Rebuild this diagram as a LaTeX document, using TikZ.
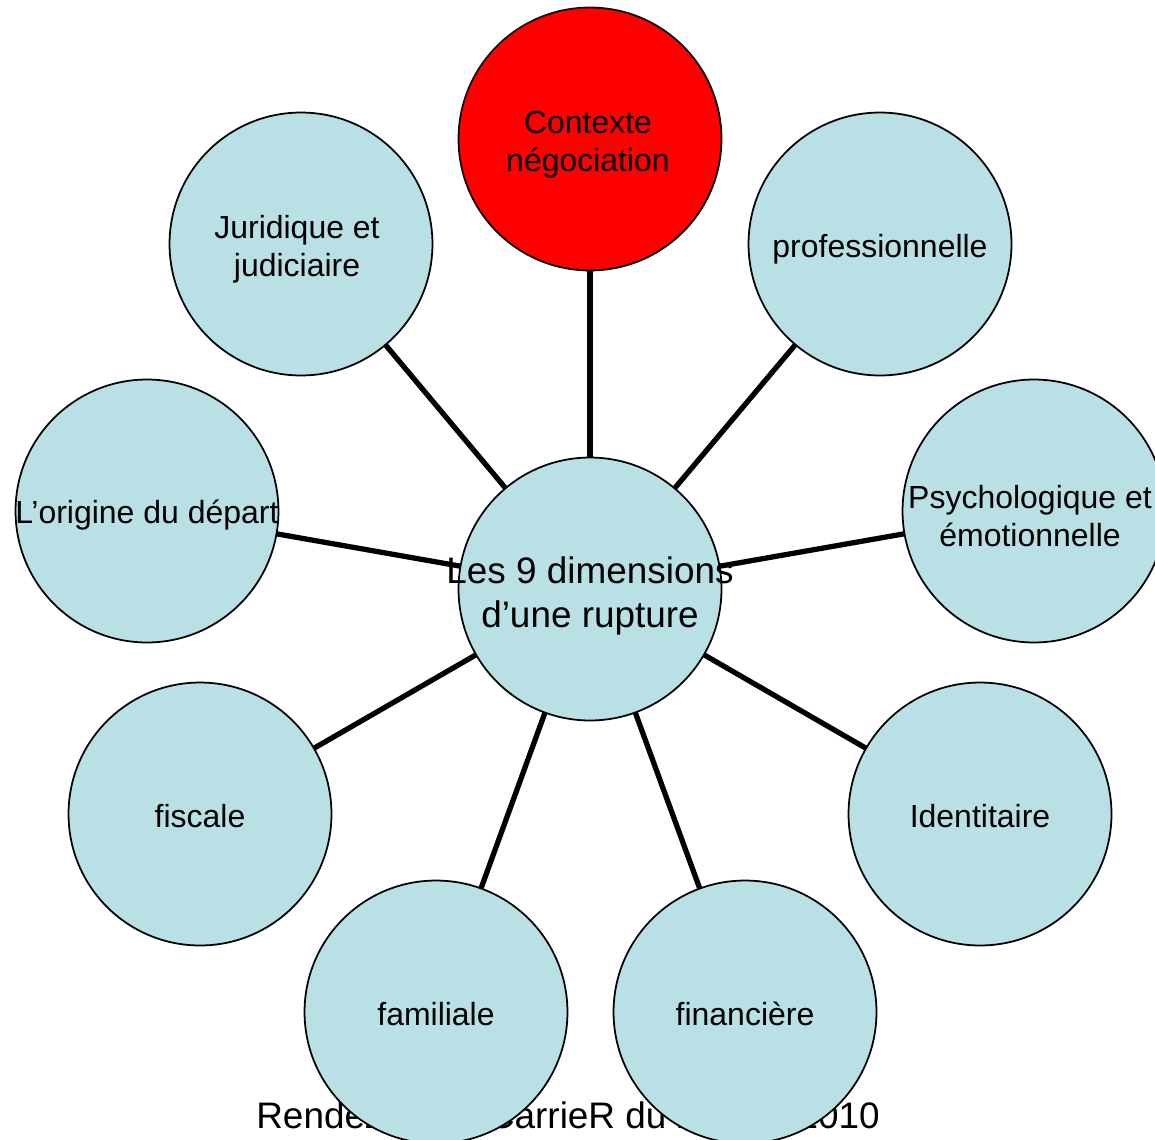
\documentclass[tikz,border=0pt]{standalone}
\usepackage{fontspec}
\setmainfont{Liberation Sans}
\definecolor{bubble}{RGB}{185,224,228}
\definecolor{hot}{RGB}{255,0,0}
\pgfdeclarelayer{background}
\pgfsetlayers{background,main}
\tikzset{
  bub/.style={circle, draw=black, line width=1pt, fill=bubble, minimum size=5.26cm, inner sep=0pt},
  hotbub/.style={bub, fill=hot},
  txt/.style={align=center, inner sep=0pt, font=\fontsize{18.2}{21.5}\selectfont},
  hubtxt/.style={align=center, inner sep=0pt, font=\fontsize{21}{25}\selectfont},
  conn/.style={line width=3pt, draw=black},
  foot/.style={inner sep=0pt, font=\fontsize{21}{25}\selectfont}
}
\begin{document}
\begin{tikzpicture}[x=0.02cm,y=-0.02cm]
\clip (0,0) rectangle (1155,1139);
% bubbles
\node[bub] (hub) at (590,589) {};
\node[hotbub] (ctx) at (590,139) {};
\node[bub] (jur) at (301,244) {};
\node[bub] (pro) at (880,244) {};
\node[bub] (ori) at (147,511) {};
\node[bub] (psy) at (1034,511) {};
\node[bub] (fis) at (200,814) {};
\node[bub] (ide) at (980,814) {};
\node[bub] (fam) at (436,1012) {};
\node[bub] (fin) at (745,1012) {};
% texts
\node[hubtxt] (thub) at (590,596) {Les 9 dimensions\\d’une rupture};
\node[txt] (tctx) at (588,145) {Contexte\\négociation};
\node[txt] (tjur) at (297,249) {Juridique et\\judiciaire};
\node[txt] (tpro) at (880,249) {professionnelle};
\node[txt] (tori) at (147,515) {L’origine du départ};
\node[txt] (tpsy) at (1030,516) {Psychologique et\\émotionnelle};
\node[txt] (tfis) at (200,816) {fiscale};
\node[txt] (tide) at (980,816) {Identitaire};
\node[txt] (tfam) at (436,1014) {familiale};
\node[txt] (tfin) at (745,1014) {financière};
\begin{pgfonlayer}{background}
\fill[white] (0,0) rectangle (1155,1139);
\node[foot, anchor=base west] (ftr) at (256,1128) {RendeZ-vous CarrieR du 20 mai 2010};
\foreach \n in {ctx,jur,pro,ori,psy,fis,ide,fam,fin}
  \draw[conn] (hub.center) -- (\n.center);
\end{pgfonlayer}
\end{tikzpicture}
\end{document}
